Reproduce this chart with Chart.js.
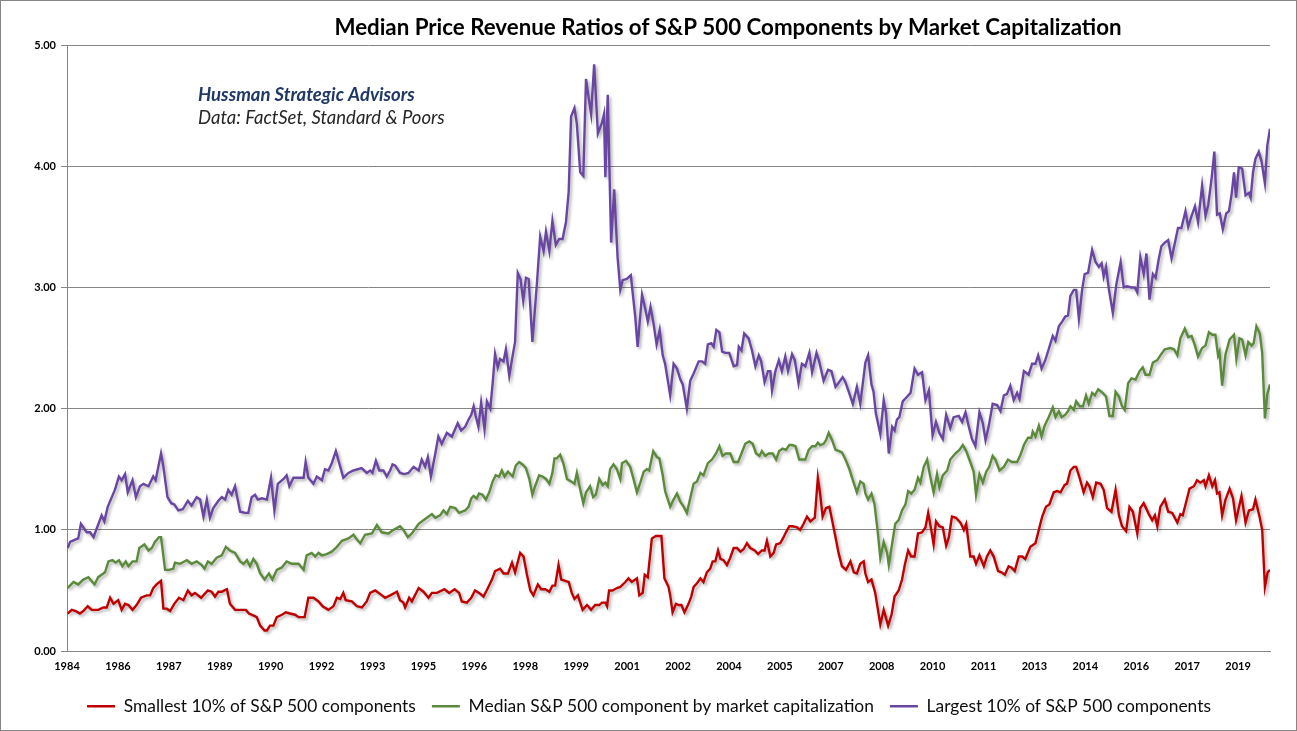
<!DOCTYPE html>
<html>
<head>
<meta charset="utf-8">
<script src="https://cdn.jsdelivr.net/npm/chart.js@4.4.1/dist/chart.umd.min.js"></script>
<style>
  html, body { margin: 0; padding: 0; background: #fff; }
  #chart { display: block; }
</style>
</head>
<body>
<canvas id="chart" width="1297" height="731"></canvas>
<script>
// x tick labels, every 18 months from Dec 1984
const tickLabels = ["1984","1986","1987","1989","1990","1992","1993","1995","1996","1998","1999","2001",
  "2002","2004","2005","2007","2008","2010","2011","2013","2014","2016","2017","2019"];
const FIRST_TICK = 1984.92;
const TICK_STEP = 1.5;

// Largest 10% of S&P 500 components (decimal year, ratio)
const largeDates = [1984.94,1985.01,1985.16,1985.25,1985.33,1985.50,1985.60,1985.70,1985.82,1985.94,1986.02,1986.12,1986.24,1986.33,1986.45,1986.53,1986.63,1986.71,1986.85,1986.95,
  1987.07,1987.17,1987.32,1987.46,1987.53,1987.69,1987.76,1987.88,1987.99,1988.08,1988.20,1988.33,1988.48,1988.59,1988.74,1988.84,1988.94,1989.04,1989.13,1989.23,
  1989.38,1989.48,1989.58,1989.67,1989.77,1989.87,1990.02,1990.17,1990.26,1990.36,1990.46,1990.54,1990.66,1990.81,1990.93,1991.03,1991.13,1991.30,1991.39,1991.47,
  1991.59,1991.89,1991.95,1992.03,1992.18,1992.28,1992.43,1992.52,1992.62,1992.72,1992.84,1992.97,1993.06,1993.21,1993.36,1993.60,1993.75,1993.85,1993.92,1994.02,
  1994.12,1994.24,1994.34,1994.44,1994.51,1994.59,1994.73,1994.86,1994.98,1995.13,1995.28,1995.37,1995.47,1995.55,1995.64,1995.77,1995.86,1995.96,1996.11,1996.26,
  1996.43,1996.53,1996.65,1996.75,1996.83,1996.90,1996.96,1997.04,1997.12,1997.22,1997.29,1997.39,1997.46,1997.53,1997.61,1997.68,1997.78,1997.85,1997.95,1998.05,
  1998.12,1998.20,1998.28,1998.36,1998.44,1998.52,1998.63,1998.76,1998.86,1998.96,1999.03,1999.13,1999.22,1999.32,1999.42,1999.52,1999.62,1999.70,1999.77,1999.87,
  1999.94,2000.04,2000.13,2000.21,2000.29,2000.36,2000.45,2000.56,2000.68,2000.74,2000.78,2000.85,2000.95,2001.04,2001.14,2001.22,2001.29,2001.41,2001.53,2001.66,
  2001.73,2001.86,2001.95,2002.03,2002.11,2002.20,2002.29,2002.38,2002.47,2002.54,2002.69,2002.79,2002.89,2002.99,2003.06,2003.18,2003.28,2003.38,2003.53,2003.63,
  2003.72,2003.80,2003.90,2003.97,2004.05,2004.14,2004.22,2004.31,2004.43,2004.56,2004.66,2004.71,2004.79,2004.87,2005.00,2005.10,2005.20,2005.30,2005.37,2005.47,
  2005.57,2005.64,2005.69,2005.79,2005.89,2005.98,2006.08,2006.16,2006.28,2006.36,2006.47,2006.57,2006.67,2006.79,2006.87,2007.00,2007.08,2007.21,2007.34,2007.44,
  2007.56,2007.67,2007.77,2007.85,2007.95,2008.07,2008.19,2008.29,2008.44,2008.52,2008.62,2008.68,2008.75,2008.88,2008.98,2009.05,2009.13,2009.23,2009.30,2009.37,
  2009.44,2009.54,2009.64,2009.77,2009.89,2009.99,2010.11,2010.21,2010.31,2010.42,2010.52,2010.62,2010.72,2010.82,2010.94,2011.04,2011.19,2011.29,2011.39,2011.48,
  2011.58,2011.68,2011.80,2011.90,2011.98,2012.07,2012.19,2012.32,2012.42,2012.52,2012.61,2012.71,2012.81,2012.91,2012.98,2013.11,2013.25,2013.35,2013.45,2013.53,
  2013.63,2013.74,2013.84,2013.96,2014.04,2014.14,2014.24,2014.33,2014.41,2014.48,2014.58,2014.65,2014.73,2014.83,2014.90,2015.00,2015.12,2015.22,2015.32,2015.40,
  2015.46,2015.53,2015.61,2015.73,2015.83,2015.96,2016.05,2016.15,2016.28,2016.38,2016.45,2016.54,2016.64,2016.72,2016.81,2016.91,2016.99,2017.08,2017.16,2017.26,
  2017.36,2017.46,2017.56,2017.65,2017.75,2017.87,2017.95,2018.05,2018.15,2018.24,2018.36,2018.46,2018.54,2018.64,2018.72,2018.80,2018.88,2018.97,2019.07,2019.15,
  2019.23,2019.30,2019.36,2019.44,2019.54,2019.64,2019.74,2019.79,2019.86,2019.93,2020.03,2020.11,2020.21,2020.28,2020.36];
const largeValues = [0.85,0.90,0.92,0.93,1.05,0.98,0.98,0.94,1.03,1.12,1.07,1.19,1.27,1.33,1.44,1.41,1.46,1.31,1.41,1.27,
  1.36,1.38,1.36,1.44,1.41,1.63,1.52,1.27,1.22,1.21,1.16,1.17,1.24,1.20,1.27,1.25,1.11,1.25,1.10,1.18,
  1.24,1.27,1.25,1.33,1.29,1.36,1.15,1.14,1.14,1.27,1.29,1.25,1.26,1.25,1.43,1.16,1.38,1.42,1.45,1.36,
  1.43,1.43,1.56,1.43,1.38,1.44,1.41,1.50,1.49,1.55,1.65,1.52,1.43,1.47,1.49,1.51,1.47,1.49,1.47,1.57,
  1.49,1.49,1.44,1.49,1.54,1.53,1.47,1.46,1.47,1.52,1.49,1.58,1.52,1.60,1.44,1.63,1.77,1.71,1.80,1.77,
  1.88,1.82,1.85,1.91,1.95,2.02,1.94,1.85,2.05,1.83,2.06,2.00,2.21,2.45,2.34,2.41,2.39,2.49,2.27,2.44,
  2.55,3.12,3.07,2.89,3.08,3.07,2.55,3.02,3.42,3.30,3.46,3.30,3.55,3.35,3.40,3.40,3.54,3.79,4.41,4.48,
  4.35,3.95,3.92,4.72,4.56,4.43,4.84,4.27,4.36,4.43,3.91,4.59,3.37,3.81,3.25,2.98,3.06,3.07,3.10,2.76,
  2.51,2.94,2.83,2.72,2.84,2.70,2.53,2.65,2.44,2.37,2.11,2.37,2.33,2.24,2.20,2.00,2.23,2.29,2.39,2.39,
  2.37,2.53,2.54,2.51,2.65,2.63,2.47,2.46,2.46,2.35,2.36,2.51,2.48,2.62,2.58,2.48,2.35,2.44,2.39,2.22,
  2.31,2.31,2.15,2.31,2.40,2.31,2.43,2.31,2.45,2.40,2.21,2.37,2.35,2.46,2.30,2.46,2.39,2.23,2.32,2.31,
  2.18,2.22,2.26,2.22,2.14,2.04,2.18,2.04,2.38,2.44,2.20,2.14,1.96,1.79,2.07,1.96,1.63,1.85,1.82,1.91,
  1.93,2.06,2.09,2.13,2.33,2.28,2.30,2.07,2.15,1.78,1.89,1.80,1.75,1.95,1.84,1.93,1.94,1.89,1.97,1.86,
  1.75,1.69,1.97,1.88,1.74,1.85,2.04,2.03,1.98,2.11,2.12,2.19,2.07,2.13,2.08,2.31,2.28,2.37,2.37,2.44,
  2.33,2.40,2.49,2.60,2.56,2.68,2.72,2.76,2.77,2.93,2.98,2.98,2.74,2.99,3.11,3.12,3.31,3.21,3.17,3.20,
  3.09,3.17,2.99,2.79,3.02,3.21,3.00,3.01,3.00,3.00,2.96,3.25,3.11,3.28,2.90,3.11,3.08,3.23,3.34,3.37,
  3.39,3.24,3.37,3.49,3.49,3.63,3.50,3.59,3.67,3.54,3.84,3.59,3.68,3.90,4.12,3.60,3.61,3.48,3.61,3.63,
  3.77,3.95,3.74,3.99,3.98,3.76,3.78,3.74,3.95,4.06,4.12,4.04,3.86,4.17,4.31];

// Median S&P 500 component by market capitalization
const medianDates = [1984.94,1985.11,1985.25,1985.40,1985.55,1985.73,1985.84,1986.04,1986.14,1986.26,1986.35,1986.45,1986.55,1986.65,1986.73,1986.85,1986.97,1987.05,1987.20,1987.32,
  1987.42,1987.51,1987.63,1987.69,1987.81,1987.93,1988.05,1988.10,1988.25,1988.45,1988.59,1988.74,1988.89,1988.97,1989.07,1989.18,1989.33,1989.48,1989.60,1989.72,
  1989.87,1990.02,1990.12,1990.22,1990.31,1990.41,1990.51,1990.61,1990.74,1990.87,1990.97,1991.10,1991.25,1991.39,1991.54,1991.74,1991.89,1991.98,1992.13,1992.23,
  1992.33,1992.43,1992.57,1992.72,1992.87,1993.02,1993.21,1993.36,1993.46,1993.56,1993.70,1993.90,1994.05,1994.19,1994.39,1994.54,1994.73,1994.83,1994.96,1995.08,
  1995.28,1995.42,1995.67,1995.77,1995.91,1996.01,1996.11,1996.21,1996.36,1996.47,1996.65,1996.75,1996.83,1996.90,1996.99,1997.06,1997.16,1997.26,1997.36,1997.46,
  1997.55,1997.65,1997.73,1997.81,1997.91,1998.05,1998.14,1998.24,1998.34,1998.44,1998.54,1998.63,1998.71,1998.83,1998.93,1999.03,1999.13,1999.22,1999.28,1999.35,
  1999.45,1999.55,1999.65,1999.77,1999.87,1999.94,2000.01,2000.13,2000.21,2000.33,2000.42,2000.50,2000.60,2000.70,2000.78,2000.85,2000.92,2001.02,2001.12,2001.22,
  2001.27,2001.39,2001.51,2001.61,2001.71,2001.81,2001.91,2002.00,2002.07,2002.19,2002.30,2002.37,2002.47,2002.54,2002.69,2002.79,2002.89,2002.99,2003.09,2003.18,
  2003.28,2003.38,2003.48,2003.58,2003.67,2003.80,2003.92,2004.04,2004.14,2004.23,2004.33,2004.46,2004.56,2004.69,2004.79,2004.90,2005.02,2005.12,2005.22,2005.32,
  2005.39,2005.49,2005.59,2005.71,2005.81,2005.90,2006.00,2006.10,2006.20,2006.28,2006.38,2006.49,2006.67,2006.77,2006.87,2006.97,2007.04,2007.11,2007.21,2007.28,
  2007.36,2007.46,2007.56,2007.67,2007.75,2007.87,2007.97,2008.07,2008.19,2008.29,2008.39,2008.44,2008.52,2008.62,2008.71,2008.81,2008.88,2008.98,2009.08,2009.13,
  2009.23,2009.32,2009.42,2009.52,2009.62,2009.70,2009.79,2009.89,2009.99,2010.06,2010.16,2010.26,2010.35,2010.45,2010.55,2010.62,2010.72,2010.85,2010.94,2011.09,
  2011.21,2011.31,2011.41,2011.53,2011.63,2011.70,2011.80,2011.90,2012.00,2012.09,2012.19,2012.27,2012.39,2012.52,2012.64,2012.76,2012.91,2013.01,2013.11,2013.23,
  2013.33,2013.37,2013.45,2013.55,2013.63,2013.72,2013.84,2013.96,2014.04,2014.14,2014.22,2014.33,2014.41,2014.48,2014.58,2014.65,2014.75,2014.85,2014.94,2015.02,
  2015.12,2015.20,2015.30,2015.43,2015.53,2015.63,2015.73,2015.81,2015.91,2016.00,2016.08,2016.18,2016.28,2016.40,2016.52,2016.61,2016.69,2016.81,2016.91,2017.04,
  2017.13,2017.26,2017.43,2017.53,2017.63,2017.72,2017.85,2017.95,2018.05,2018.15,2018.24,2018.36,2018.46,2018.56,2018.66,2018.75,2018.83,2018.87,2018.95,2019.05,
  2019.17,2019.30,2019.37,2019.46,2019.54,2019.64,2019.72,2019.82,2019.88,2019.96,2020.06,2020.13,2020.21,2020.28,2020.36];
const medianValues = [0.52,0.57,0.55,0.59,0.61,0.55,0.61,0.65,0.74,0.75,0.73,0.75,0.70,0.74,0.70,0.74,0.74,0.85,0.88,0.83,
  0.85,0.90,0.94,0.94,0.67,0.67,0.68,0.73,0.72,0.75,0.72,0.74,0.71,0.68,0.74,0.72,0.77,0.79,0.86,0.83,
  0.81,0.74,0.72,0.75,0.70,0.76,0.72,0.64,0.59,0.64,0.59,0.67,0.69,0.74,0.72,0.72,0.67,0.79,0.81,0.78,
  0.81,0.79,0.80,0.82,0.86,0.91,0.93,0.96,0.92,0.89,0.96,0.97,1.04,0.98,0.97,1.00,1.03,1.00,0.94,0.97,
  1.05,1.08,1.13,1.10,1.12,1.16,1.13,1.19,1.18,1.14,1.16,1.19,1.26,1.28,1.26,1.30,1.29,1.25,1.31,1.40,
  1.45,1.44,1.49,1.44,1.48,1.44,1.53,1.56,1.54,1.51,1.42,1.29,1.36,1.45,1.44,1.42,1.38,1.47,1.59,1.59,
  1.62,1.54,1.42,1.40,1.38,1.47,1.37,1.22,1.31,1.36,1.27,1.29,1.42,1.37,1.39,1.36,1.50,1.54,1.50,1.42,
  1.55,1.57,1.52,1.42,1.31,1.39,1.48,1.50,1.49,1.65,1.60,1.59,1.45,1.32,1.19,1.25,1.30,1.23,1.19,1.14,
  1.26,1.38,1.40,1.47,1.45,1.55,1.58,1.63,1.69,1.61,1.63,1.63,1.56,1.56,1.63,1.71,1.73,1.71,1.63,1.61,
  1.65,1.61,1.63,1.63,1.58,1.65,1.67,1.66,1.70,1.70,1.69,1.58,1.58,1.66,1.69,1.69,1.72,1.70,1.71,1.74,
  1.80,1.74,1.66,1.65,1.64,1.57,1.50,1.41,1.31,1.40,1.38,1.30,1.25,1.30,1.21,0.97,0.77,0.90,0.81,0.71,
  0.89,1.05,1.08,1.16,1.21,1.32,1.30,1.33,1.43,1.39,1.52,1.58,1.44,1.31,1.46,1.35,1.45,1.49,1.58,1.63,
  1.66,1.70,1.65,1.56,1.48,1.29,1.46,1.39,1.48,1.52,1.61,1.58,1.49,1.52,1.58,1.56,1.56,1.62,1.70,1.76,
  1.76,1.81,1.77,1.86,1.77,1.86,1.93,2.01,1.93,1.98,1.93,1.95,1.98,2.02,1.99,2.06,2.02,2.02,2.11,2.04,
  2.13,2.11,2.16,2.13,2.10,1.94,1.94,2.14,2.10,2.02,1.99,2.21,2.25,2.24,2.31,2.34,2.28,2.28,2.38,2.40,
  2.44,2.49,2.50,2.49,2.44,2.58,2.66,2.59,2.60,2.52,2.43,2.50,2.52,2.63,2.61,2.61,2.44,2.47,2.19,2.45,
  2.57,2.61,2.41,2.58,2.57,2.44,2.55,2.52,2.54,2.68,2.62,2.46,1.92,2.12,2.20];

// Smallest 10% of S&P 500 components
const smallDates = [1984.94,1985.06,1985.18,1985.30,1985.40,1985.53,1985.65,1985.84,1985.99,1986.09,1986.19,1986.29,1986.43,1986.53,1986.63,1986.73,1986.85,1986.97,1987.10,1987.27,
  1987.37,1987.46,1987.56,1987.69,1987.76,1987.86,1987.96,1988.08,1988.22,1988.35,1988.48,1988.59,1988.69,1988.87,1989.07,1989.18,1989.28,1989.38,1989.48,1989.63,
  1989.72,1989.87,1990.05,1990.19,1990.28,1990.44,1990.51,1990.61,1990.74,1990.81,1990.90,1991.00,1991.10,1991.25,1991.37,1991.49,1991.64,1991.74,1991.92,1992.03,
  1992.18,1992.33,1992.45,1992.62,1992.77,1992.87,1992.97,1993.06,1993.13,1993.31,1993.46,1993.61,1993.75,1993.85,1994.00,1994.15,1994.29,1994.44,1994.64,1994.73,
  1994.83,1994.88,1995.00,1995.08,1995.28,1995.42,1995.57,1995.67,1995.82,1996.04,1996.18,1996.34,1996.47,1996.55,1996.70,1996.83,1996.94,1997.06,1997.19,1997.32,
  1997.44,1997.53,1997.68,1997.78,1997.91,1998.03,1998.12,1998.27,1998.37,1998.47,1998.57,1998.66,1998.79,1998.89,1999.01,1999.13,1999.22,1999.30,1999.40,1999.48,
  1999.60,1999.70,1999.79,1999.87,1999.97,2000.11,2000.24,2000.36,2000.48,2000.60,2000.68,2000.78,2000.83,2000.89,2000.99,2001.12,2001.22,2001.37,2001.46,2001.56,
  2001.71,2001.78,2001.88,2001.94,2002.03,2002.15,2002.27,2002.43,2002.52,2002.64,2002.69,2002.76,2002.86,2002.94,2003.02,2003.11,2003.23,2003.31,2003.38,2003.48,
  2003.58,2003.67,2003.77,2003.87,2003.94,2004.02,2004.10,2004.17,2004.26,2004.36,2004.46,2004.56,2004.66,2004.76,2004.85,2004.95,2005.05,2005.18,2005.28,2005.39,
  2005.47,2005.54,2005.64,2005.74,2005.81,2005.93,2006.03,2006.10,2006.20,2006.30,2006.43,2006.52,2006.62,2006.72,2006.82,2006.95,2007.04,2007.11,2007.18,2007.28,
  2007.38,2007.46,2007.56,2007.65,2007.75,2007.87,2008.00,2008.10,2008.19,2008.29,2008.39,2008.44,2008.52,2008.62,2008.73,2008.81,2008.88,2008.98,2009.11,2009.21,
  2009.30,2009.42,2009.52,2009.60,2009.70,2009.79,2009.89,2009.99,2010.11,2010.21,2010.29,2010.38,2010.45,2010.52,2010.62,2010.72,2010.82,2010.90,2010.99,2011.11,
  2011.24,2011.34,2011.41,2011.53,2011.63,2011.70,2011.80,2011.93,2012.02,2012.12,2012.22,2012.35,2012.45,2012.55,2012.66,2012.74,2012.84,2012.96,2013.06,2013.15,
  2013.30,2013.45,2013.55,2013.65,2013.76,2013.86,2013.99,2014.09,2014.19,2014.31,2014.38,2014.48,2014.58,2014.65,2014.75,2014.87,2014.97,2015.04,2015.14,2015.24,
  2015.37,2015.46,2015.56,2015.69,2015.81,2015.91,2016.00,2016.12,2016.22,2016.32,2016.45,2016.54,2016.64,2016.79,2016.89,2016.97,2017.04,2017.13,2017.26,2017.36,
  2017.48,2017.63,2017.72,2017.79,2017.89,2017.99,2018.12,2018.21,2018.31,2018.41,2018.46,2018.56,2018.66,2018.74,2018.80,2018.87,2018.95,2019.05,2019.17,2019.27,
  2019.36,2019.44,2019.52,2019.64,2019.74,2019.86,2019.93,2020.05,2020.13,2020.21,2020.29,2020.36];
const smallValues = [0.31,0.34,0.33,0.31,0.33,0.37,0.34,0.34,0.36,0.36,0.44,0.39,0.42,0.34,0.39,0.38,0.34,0.38,0.44,0.46,
  0.46,0.52,0.55,0.58,0.35,0.35,0.33,0.39,0.44,0.42,0.50,0.46,0.48,0.44,0.50,0.49,0.45,0.49,0.49,0.51,
  0.39,0.34,0.34,0.34,0.31,0.29,0.28,0.21,0.17,0.17,0.21,0.21,0.28,0.30,0.32,0.31,0.30,0.28,0.28,0.44,
  0.44,0.41,0.37,0.34,0.37,0.44,0.43,0.48,0.42,0.41,0.37,0.36,0.41,0.48,0.50,0.47,0.44,0.46,0.49,0.42,
  0.40,0.36,0.44,0.41,0.52,0.49,0.44,0.48,0.48,0.51,0.48,0.51,0.48,0.41,0.40,0.44,0.50,0.48,0.45,0.52,
  0.59,0.66,0.68,0.64,0.64,0.73,0.65,0.81,0.78,0.63,0.50,0.46,0.55,0.51,0.51,0.49,0.54,0.54,0.71,0.59,
  0.58,0.57,0.48,0.43,0.46,0.34,0.38,0.34,0.38,0.38,0.40,0.40,0.37,0.50,0.50,0.52,0.53,0.57,0.60,0.57,
  0.60,0.46,0.48,0.63,0.61,0.93,0.95,0.95,0.60,0.53,0.46,0.32,0.39,0.38,0.38,0.32,0.39,0.45,0.53,0.56,
  0.60,0.57,0.65,0.68,0.74,0.74,0.83,0.76,0.75,0.71,0.77,0.85,0.85,0.82,0.84,0.89,0.85,0.83,0.80,0.83,
  0.83,0.91,0.78,0.81,0.88,0.89,0.94,0.98,1.03,1.03,1.02,1.00,1.05,1.11,1.07,1.10,1.43,1.29,1.11,1.18,
  1.19,1.08,0.94,0.81,0.70,0.67,0.74,0.65,0.64,0.72,0.74,0.64,0.57,0.59,0.48,0.34,0.22,0.34,0.21,0.30,
  0.45,0.50,0.59,0.71,0.83,0.78,0.78,0.97,0.98,1.02,1.14,1.00,0.88,1.07,1.03,1.02,0.87,0.94,1.11,1.10,
  1.06,1.00,1.05,0.78,0.78,0.72,0.79,0.70,0.78,0.83,0.78,0.66,0.65,0.63,0.70,0.69,0.66,0.78,0.78,0.76,
  0.86,0.89,1.00,1.11,1.19,1.21,1.31,1.32,1.31,1.37,1.38,1.49,1.52,1.52,1.43,1.31,1.39,1.36,1.27,1.39,
  1.38,1.33,1.18,1.15,1.33,1.12,1.03,0.99,1.19,1.15,0.97,1.18,1.22,1.13,1.08,1.12,1.03,1.19,1.25,1.15,
  1.14,1.06,1.13,1.12,1.23,1.34,1.36,1.41,1.39,1.41,1.36,1.45,1.36,1.41,1.30,1.31,1.12,1.25,1.34,1.26,
  1.08,1.18,1.28,1.06,1.16,1.17,1.25,1.11,1.00,0.53,0.65,0.67];

const yTicks = [0, 1, 2, 3, 4, 5];

function toPoints(dates, values) {
  return dates.map((d, i) => ({ x: d, y: values[i] }));
}

const FONT = "Lato, 'Open Sans', sans-serif";

// white background, outer frame, title and source note
const framePlugin = {
  id: 'frame',
  beforeDraw(chart) {
    const c = chart.ctx;
    c.save();
    c.fillStyle = '#fff';
    c.fillRect(0, 0, chart.width, chart.height);
    c.strokeStyle = '#868686';
    c.lineWidth = 1;
    c.strokeRect(0.5, 0.5, chart.width - 1, chart.height - 1);
    c.restore();
  },
  afterLayout(chart) {
    // legend is centred on the whole frame in the original, not on the padded box
    if (chart.legend) chart.legend.left += 28;
  },
  afterDraw(chart) {
    const c = chart.ctx;
    c.save();
    c.textBaseline = 'middle';
    c.fillStyle = '#000';
    c.textAlign = 'center';
    c.font = "bold 22.3px " + FONT;
    c.fillText('Median Price Revenue Ratios of S&P 500 Components by Market Capitalization', 728, 28);
    c.textAlign = 'left';
    c.fillStyle = '#1f3864';
    c.font = "italic bold 18.5px " + FONT;
    c.fillText('Hussman Strategic Advisors', 198, 95);
    c.fillStyle = '#262626';
    c.font = "italic 18.5px " + FONT;
    c.fillText('Data: FactSet, Standard & Poors', 198, 118);
    c.restore();
  }
};

// soft drop shadow under the lines, like the original
const shadowPlugin = {
  id: 'lineShadow',
  beforeDatasetsDraw(chart) {
    const c = chart.ctx;
    c.save();
    c.shadowColor = 'rgba(0,0,0,0.3)';
    c.shadowBlur = 3;
    c.shadowOffsetX = 2;
    c.shadowOffsetY = 2;
  },
  afterDatasetsDraw(chart) {
    chart.ctx.restore();
  }
};

const lineStyle = { borderWidth: 2.4, pointRadius: 0, tension: 0, fill: false };

new Chart(document.getElementById('chart'), {
  type: 'line',
  data: {
    datasets: [
      { label: 'Smallest 10% of S&P 500 components', data: toPoints(smallDates, smallValues),
        borderColor: '#c00000', backgroundColor: '#c00000', ...lineStyle },
      { label: 'Median S&P 500 component by market capitalization', data: toPoints(medianDates, medianValues),
        borderColor: '#5b8a3a', backgroundColor: '#5b8a3a', ...lineStyle },
      { label: 'Largest 10% of S&P 500 components', data: toPoints(largeDates, largeValues),
        borderColor: '#6846a2', backgroundColor: '#6846a2', ...lineStyle }
    ]
  },
  options: {
    responsive: false,
    animation: false,
    layout: { padding: { top: 45, right: 27, bottom: 6, left: 0 } },
    plugins: {
      tooltip: { enabled: false },
      title: { display: false },
      legend: {
        position: 'bottom',
        labels: {
          usePointStyle: true,
          pointStyle: 'line',
          pointStyleWidth: 28,
          padding: 16,
          color: '#0d0d0d',
          font: { family: FONT, size: 17.4 }
        }
      }
    },
    scales: {
      x: {
        type: 'linear',
        min: FIRST_TICK,
        max: 2020.36,
        grid: { display: false },
        border: { color: '#868686', width: 1 },
        ticks: {
          color: '#000',
          font: { family: FONT, size: 11, weight: 'bold' },
          maxRotation: 0,
          autoSkip: false,
          padding: 1,
          callback: (v, i) => tickLabels[i]
        },
        afterBuildTicks: axis => {
          axis.ticks = tickLabels.map((t, i) => ({ value: FIRST_TICK + i * TICK_STEP }));
        },
        afterFit: axis => { axis.height = 30.5; }
      },
      y: {
        min: 0,
        max: 5,
        grid: { color: '#868686', lineWidth: 1, tickLength: 6 },
        border: { color: '#868686', width: 1 },
        ticks: {
          color: '#000',
          font: { family: FONT, size: 11, weight: 'bold' },
          padding: 5,
          callback: v => v.toFixed(2)
        },
        afterBuildTicks: axis => {
          axis.ticks = yTicks.map(v => ({ value: v }));
        },
        afterFit: axis => { axis.width = 67; }
      }
    }
  },
  plugins: [framePlugin, shadowPlugin]
});
</script>
</body>
</html>
